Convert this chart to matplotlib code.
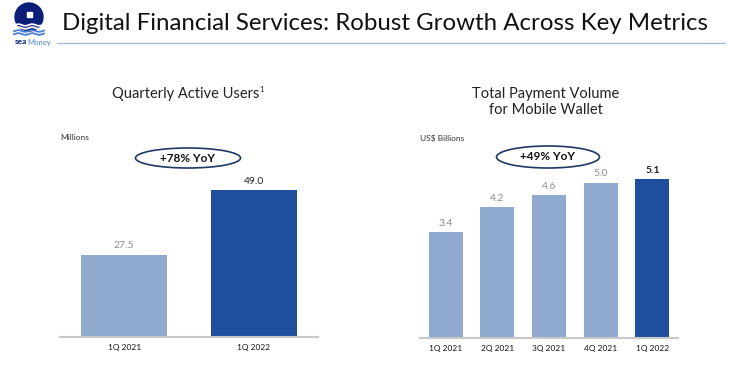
import numpy as np
import matplotlib.pyplot as plt
from matplotlib.patches import Ellipse, Circle, Rectangle

plt.rcParams['font.family'] = ['Lato', 'DejaVu Sans']

# data
qau_labels = ['1Q 2021', '1Q 2022']
qau_values = [27.5, 49.0]
tpv_labels = ['1Q 2021', '2Q 2021', '3Q 2021', '4Q 2021', '1Q 2022']
tpv_values = [3.4, 4.2, 4.6, 5.0, 5.1]

light = '#8FA9CF'
dark = '#1F4F9C'
navy = '#1F3864'

W, H = 740, 371
fig = plt.figure(figsize=(7.4, 3.71), dpi=100)


def px(x0, y0, x1, y1):
    # pixel box (top-left origin) -> figure rect
    return [x0 / W, 1 - y1 / H, (x1 - x0) / W, (y1 - y0) / H]


def bar_panel(rect, labels, values, ymax, fmt, unit):
    ax = fig.add_axes(rect)
    xs = np.arange(len(values))
    colors = [light] * (len(values) - 1) + [dark]
    ax.bar(xs, values, width=0.66, color=colors)
    for i, v in enumerate(values):
        last = i == len(values) - 1
        ax.annotate(fmt.format(v), (xs[i], v), xytext=(0, 3), textcoords='offset points',
                    ha='center', va='bottom', fontsize=7.5,
                    color='#222222' if last else '#8C8C8C',
                    fontweight='bold' if (last and len(values) > 2) else 'normal')
    ax.set_xlim(-0.495, len(values) - 0.505)
    ax.set_ylim(0, ymax)
    ax.set_xticks(xs)
    ax.set_xticklabels(labels, fontsize=6, color='#111111')
    ax.tick_params(axis='x', length=0, pad=5)
    ax.set_yticks([])
    for s in ['top', 'right', 'left']:
        ax.spines[s].set_visible(False)
    ax.spines['bottom'].set_color('#C8C8C8')
    ax.spines['bottom'].set_linewidth(1.5)
    ax.text(0, 1.0, unit, transform=ax.transAxes, fontsize=6, color='#333333',
            ha='left', va='center')
    return ax


bar_panel(px(60, 138, 318, 337), qau_labels, qau_values, 199 / 3.0, '{:.1f}', 'Millions')
bar_panel(px(420, 138, 678, 338), tpv_labels, tpv_values, 200 / 31.1, '{:.1f}', 'US$ Billions')

# YoY ellipses
for cx, cy, w, h, txt in [(188, 158, 105, 20, '+78% YoY'), (548, 157, 103, 22, '+49% YoY')]:
    fig.patches.append(Ellipse((cx / W, 1 - cy / H), w / W, h / H, transform=fig.transFigure,
                               facecolor='white', edgecolor=navy, linewidth=1.2))
    fig.text(cx / W, 1 - cy / H, txt, ha='center', va='center', fontsize=8.5,
             fontweight='bold', color='#111111')

# subtitles
fig.text(186 / W, 1 - 94 / H, 'Quarterly Active Users', ha='center', va='center',
         fontsize=10.5, color='#222222')
fig.text(259 / W, 1 - 89 / H, '1', ha='left', va='center', fontsize=5.5, color='#222222')
fig.text(546 / W, 1 - 102 / H, 'Total Payment Volume\nfor Mobile Wallet', ha='center',
         va='center', fontsize=10.5, color='#222222', linespacing=1.2)

# title and rule
fig.text(62 / W, 1 - 24 / H, 'Digital Financial Services: Robust Growth Across Key Metrics',
         ha='left', va='center', fontsize=17.3, color='#111111')
fig.add_artist(plt.Line2D([57 / W, 725 / W], [1 - 43 / H, 1 - 43 / H], color='#A9BCD9',
                          linewidth=1))

# logo
lax = fig.add_axes(px(8, 0, 50, 46))
lax.set_xlim(0, 42)
lax.set_ylim(46, 0)
lax.axis('off')
lax.add_patch(Circle((21, 17), 14, color='#0B1F78'))
lax.add_patch(Rectangle((18.5, 12), 5, 5, color='white'))
t = np.linspace(6, 36, 60)
for y0, c in [(25, 'white'), (28, 'white'), (31, '#4A7FD0'), (34, '#4A7FD0')]:
    lax.plot(t, y0 + 0.8 * np.sin(t / 2.2), color=c, linewidth=1.3)
lax.text(19, 42, 'sea', ha='right', va='center', fontsize=6, fontweight='bold',
         color='#0B1F78')
lax.text(19, 42, 'Money', ha='left', va='center', fontsize=5.5, color='#4A7FD0')

fig.savefig('out.png', dpi=100)
